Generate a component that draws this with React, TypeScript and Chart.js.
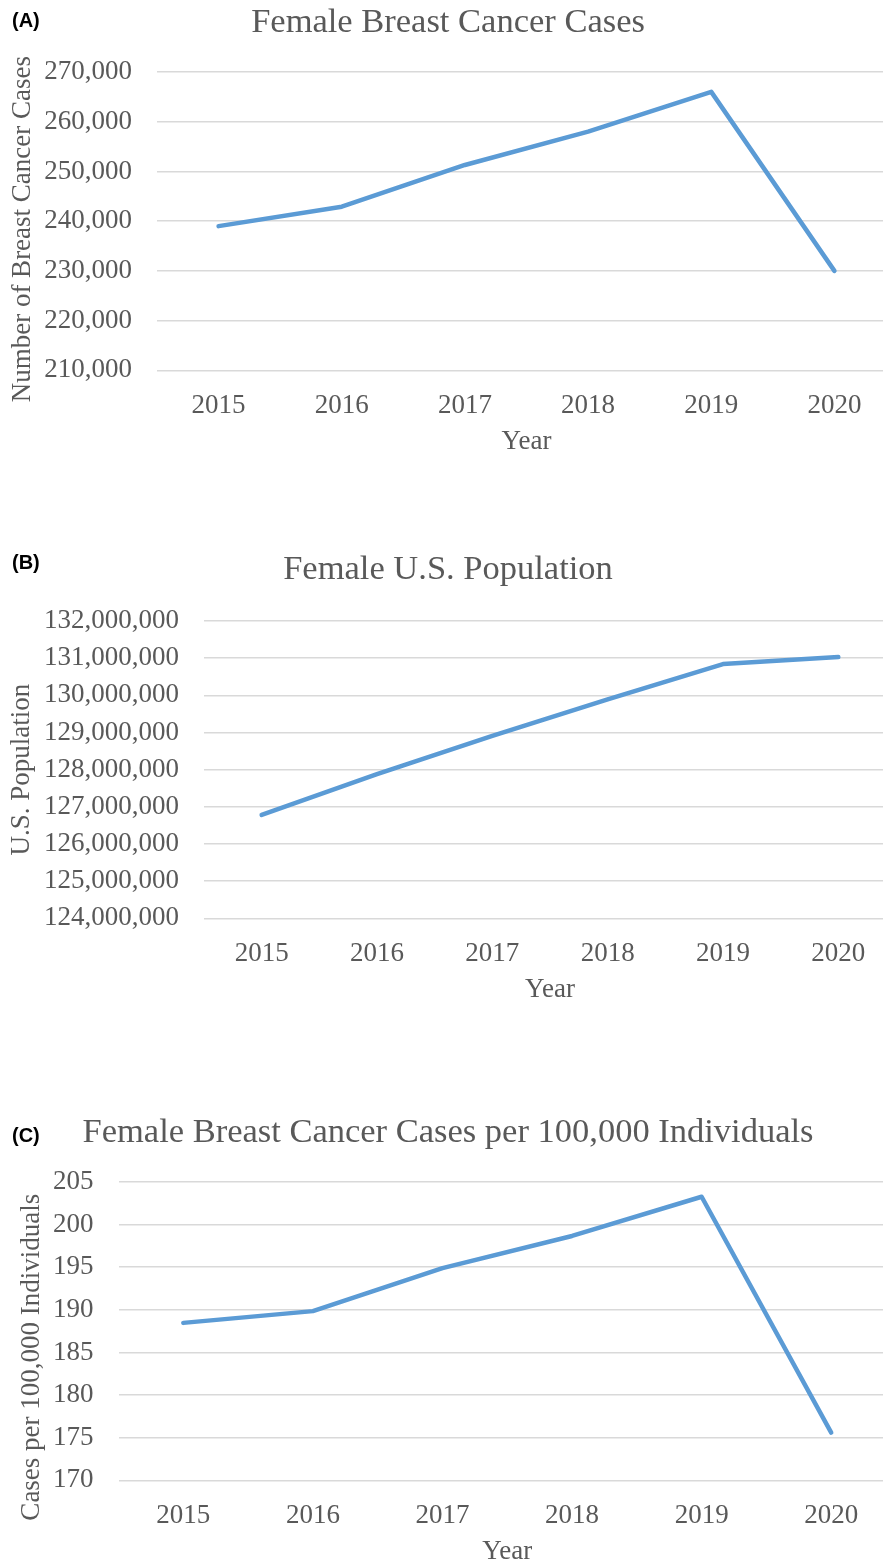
import React, { useEffect, useRef } from "react";
import { Chart, registerables } from "chart.js";

Chart.register(...registerables);

// ---------------- data ----------------
const years = ["2015", "2016", "2017", "2018", "2019", "2020"];
const breastCancerCases = [239000, 242900, 251300, 258000, 266000, 230000];
const femalePopulation = [126780000, 127880000, 128910000, 129890000, 130840000, 131030000];
const casesPer100k = [188.47, 189.85, 194.9, 198.67, 203.27, 175.6];

const casesAxis = { min: 210000, max: 270000, step: 10000 };
const populationAxis = { min: 124000000, max: 132000000, step: 1000000 };
const rateAxis = { min: 170, max: 205, step: 5 };

// ---------------- styles ----------------
const SERIF = "'Liberation Serif', 'Times New Roman', Times, serif";
const SANS = "'Liberation Sans', Arial, Helvetica, sans-serif";
const TEXT = "#595959";
const LINE = "#5b9bd5";
const GRID = "#d9d9d9";
const CANVAS_W = 896;
const X_AXIS_H = 87.7;

type Panel = {
  label: string;
  title: string;
  yTitle: string;
  values: number[];
  axis: { min: number; max: number; step: number };
  top: number;
  height: number;
  labelTop: number;
  plotLeft: number;
  titlePadTop: number;
  titlePadBottom: number;
  yTitleX: number;
  yTitleShift: number;
};

const panels: Panel[] = [
  {
    label: "(A)",
    title: "Female Breast Cancer Cases",
    yTitle: "Number of Breast Cancer Cases",
    values: breastCancerCases,
    axis: casesAxis,
    top: 0,
    height: 458,
    labelTop: 9.5,
    plotLeft: 157,
    titlePadTop: 1.8,
    titlePadBottom: 28.8,
    yTitleX: 23,
    yTitleShift: 8,
  },
  {
    label: "(B)",
    title: "Female U.S. Population",
    yTitle: "U.S. Population",
    values: femalePopulation,
    axis: populationAxis,
    top: 547,
    height: 459,
    labelTop: 552,
    plotLeft: 204,
    titlePadTop: 1.8,
    titlePadBottom: 30.8,
    yTitleX: 22,
    yTitleShift: 0,
  },
  {
    label: "(C)",
    title: "Female Breast Cancer Cases per 100,000 Individuals",
    yTitle: "Cases per 100,000 Individuals",
    values: casesPer100k,
    axis: rateAxis,
    top: 1110,
    height: 458,
    labelTop: 1124.5,
    plotLeft: 118.5,
    titlePadTop: 1.8,
    titlePadBottom: 28.8,
    yTitleX: 32,
    yTitleShift: 26,
  },
];

function LineChartPanel({ p }: { p: Panel }) {
  const ref = useRef<HTMLCanvasElement | null>(null);

  useEffect(() => {
    if (!ref.current) return;
    const yTitlePlugin = {
      id: "yTitleText",
      afterDraw(chart: any) {
        const { ctx, chartArea } = chart;
        const cy = (chartArea.top + chartArea.bottom) / 2 + p.yTitleShift;
        ctx.save();
        ctx.translate(p.yTitleX, cy);
        ctx.rotate(-Math.PI / 2);
        ctx.font = `normal 27px ${SERIF}`;
        ctx.fillStyle = TEXT;
        ctx.textAlign = "center";
        ctx.textBaseline = "middle";
        ctx.fillText(p.yTitle, 0, 0);
        ctx.restore();
      },
    };
    const chart = new Chart(ref.current, {
      type: "line",
      data: {
        labels: years,
        datasets: [
          {
            data: p.values,
            borderColor: LINE,
            backgroundColor: LINE,
            borderWidth: 4.5,
            pointRadius: 0,
            pointHoverRadius: 0,
            borderCapStyle: "round",
            borderJoinStyle: "round",
            tension: 0,
            fill: false,
          },
        ],
      },
      options: {
        responsive: false,
        maintainAspectRatio: false,
        animation: false,
        devicePixelRatio: 1,
        layout: { padding: 0 },
        plugins: {
          legend: { display: false },
          tooltip: { enabled: false },
          title: {
            display: true,
            text: p.title,
            color: TEXT,
            font: { family: SERIF, size: 34.5, weight: "normal", lineHeight: 1.2 },
            padding: { top: p.titlePadTop, bottom: p.titlePadBottom },
          },
        },
        scales: {
          x: {
            type: "category",
            offset: true,
            grid: { display: false, drawTicks: false },
            border: { display: false },
            ticks: {
              color: TEXT,
              font: { family: SERIF, size: 27, lineHeight: 1.2 },
              padding: 19.5,
              autoSkip: false,
              maxRotation: 0,
            },
            title: {
              display: true,
              text: "Year",
              color: TEXT,
              font: { family: SERIF, size: 27, lineHeight: 1.2 },
              padding: { top: 4.1, bottom: 0 },
            },
            afterFit: (scale: any) => {
              scale.height = X_AXIS_H;
            },
          },
          y: {
            min: p.axis.min,
            max: p.axis.max,
            grid: { color: GRID, lineWidth: 1.5, drawTicks: false },
            border: { display: false },
            ticks: {
              stepSize: p.axis.step,
              autoSkip: false,
              color: TEXT,
              font: { family: SERIF, size: 27, lineHeight: 1.2 },
              padding: 25,
              callback: (v: any) => Number(v).toLocaleString("en-US"),
            },
            title: { display: false },
            afterFit: (scale: any) => {
              scale.width = p.plotLeft;
            },
          },
        },
      } as any,
      plugins: [yTitlePlugin],
    });
    return () => chart.destroy();
  }, [p]);

  return (
    <>
      <canvas
        ref={ref}
        width={CANVAS_W}
        height={p.height}
        style={{ position: "absolute", left: 0, top: p.top, width: CANVAS_W, height: p.height }}
      />
      <div
        style={{
          position: "absolute",
          left: 12,
          top: p.labelTop,
          fontFamily: SANS,
          fontWeight: "bold",
          fontSize: 20,
          lineHeight: "20px",
          color: "#000",
          whiteSpace: "nowrap",
        }}
      >
        {p.label}
      </div>
    </>
  );
}

export default function App() {
  return (
    <div
      style={{
        position: "absolute",
        left: 0,
        top: 0,
        width: 883,
        height: 1562,
        overflow: "hidden",
        background: "#ffffff",
      }}
    >
      {panels.map((p) => (
        <LineChartPanel key={p.label} p={p} />
      ))}
    </div>
  );
}
